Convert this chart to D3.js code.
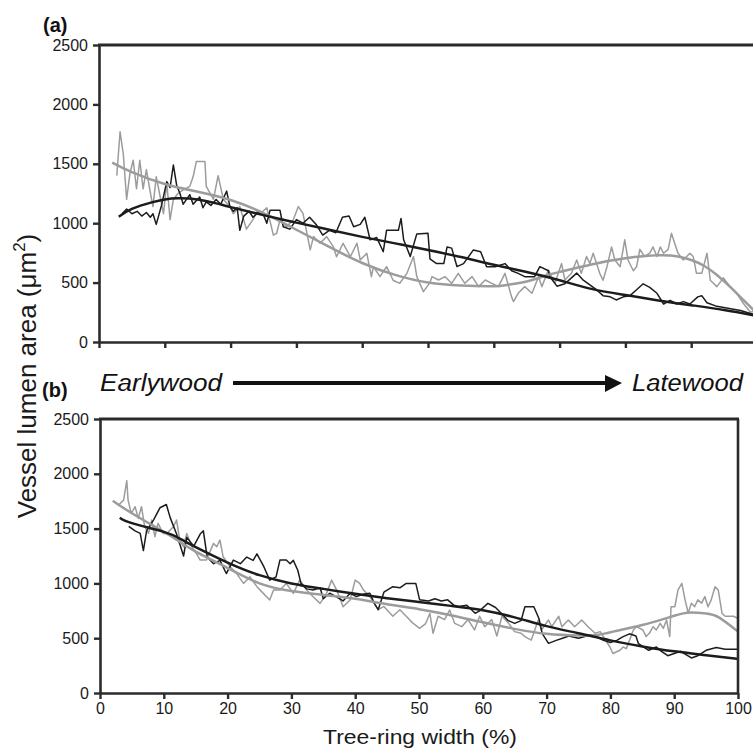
<!DOCTYPE html>
<html><head><meta charset="utf-8">
<script src="https://cdn.jsdelivr.net/npm/d3@7"></script>
<style>
html,body{margin:0;padding:0;background:#fff;}
svg{display:block;font-family:"Liberation Sans",Arial,Helvetica,sans-serif;}
</style></head><body>
<svg id="chart" width="753" height="752"></svg>
<script>
// ---------------- DATA ----------------
const xTicks = [0,10,20,30,40,50,60,70,80,90,100];
const yTicks = [0,500,1000,1500,2000,2500];
const panelLabels = ["(a)","(b)"];
const yTitle = "Vessel lumen area (\u03bcm";
const xTitle = "Tree-ring width (%)";
const arrowLabels = ["Earlywood","Latewood"];

// Panel (a) – raw series [x %, µm²]
const aBlackRaw = [[3.5,1080],[4.2,1120],[5.0,1080],[5.8,1100],[6.5,1060],[7.2,1090],[7.8,1050],[8.2,1080],[8.7,990],[9.5,1150],[10.3,1350],[10.8,1300],[11.3,1490],[11.8,1320],[12.3,1250],[12.8,1160],[13.3,1200],[13.8,1240],[14.3,1160],[15.3,1220],[15.8,1130],[16.3,1180],[17.0,1150],[17.8,1200],[18.5,1160],[19.4,1270],[19.9,1140],[20.4,1100],[21.0,1130],[21.4,940],[22.0,1060],[22.8,1100],[23.4,1050],[24.0,1080],[24.5,1100],[25.0,1070],[25.5,1000],[26.0,1110],[27.5,1110],[28.0,970],[29.0,950],[30.0,1030],[31.0,1000],[32.0,1050],[33.0,990],[34.0,900],[35.0,940],[36.0,920],[37.0,1050],[38.0,1060],[38.7,970],[39.7,990],[40.4,1050],[41.2,860],[42.2,880],[43.2,760],[43.7,940],[45.5,940],[45.9,1040],[46.3,860],[47.3,720],[48.3,910],[50.0,915],[50.3,700],[51.3,660],[52.4,660],[52.9,800],[53.6,790],[54.4,635],[55.4,660],[56.9,775],[58.0,760],[58.9,634],[60.2,634],[61.7,660],[62.7,600],[63.7,578],[64.7,550],[66.2,550],[67.0,634],[68.3,600],[68.5,550],[69.6,470],[70.8,490],[71.8,540],[72.6,580],[73.6,520],[74.6,480],[75.6,440],[76.6,390],[77.7,380],[78.6,354],[79.7,380],[80.7,390],[81.7,440],[82.7,490],[83.7,460],[84.8,410],[85.8,320],[86.8,350],[87.8,320],[88.8,340],[89.8,320],[91.0,380],[91.6,390],[92.4,330],[93.9,300],[96.0,280],[97.5,265],[99.0,240],[100,230]];
const aGreyRaw = [[2.7,1400],[3.2,1770],[3.7,1580],[4.2,1200],[4.7,1420],[5.2,1530],[5.7,1290],[6.2,1530],[6.7,1290],[7.2,1450],[7.7,1290],[8.2,1140],[8.7,1390],[9.2,1250],[9.8,1080],[10.3,1340],[10.8,1030],[11.3,1200],[12.0,1250],[12.8,1280],[13.8,1310],[14.3,1390],[14.8,1520],[16.1,1520],[16.3,1310],[17.4,1200],[18.1,1400],[18.9,1200],[19.9,1140],[20.4,1080],[21.4,1140],[22.4,950],[23.4,1030],[24.0,1100],[24.5,1080],[25.5,1130],[26.5,900],[27.0,915],[27.5,1027],[28.5,971],[29.5,1027],[30.3,1140],[31.0,1083],[32.1,775],[32.6,887],[33.6,831],[34.6,887],[35.6,803],[36.1,718],[37.1,831],[38.2,718],[39.2,831],[39.7,690],[40.7,746],[41.4,550],[41.7,634],[42.7,550],[43.7,634],[44.7,520],[45.7,494],[46.8,578],[47.8,719],[48.3,550],[49.3,424],[50.3,500],[50.6,550],[51.6,522],[52.6,550],[53.6,494],[54.6,578],[55.6,494],[56.7,550],[57.7,466],[58.7,522],[59.7,494],[60.7,466],[61.7,578],[62.7,380],[63.0,340],[63.7,410],[64.7,466],[65.8,410],[66.8,550],[67.3,466],[68.3,606],[69.3,494],[70.3,660],[70.8,522],[71.8,578],[72.6,690],[73.3,578],[74.1,720],[74.6,660],[75.1,747],[76.1,578],[76.6,520],[77.2,634],[77.9,800],[78.4,690],[79.2,634],[79.9,860],[80.4,690],[81.2,600],[81.7,634],[82.2,780],[82.9,720],[83.7,747],[84.2,800],[84.8,720],[85.3,800],[85.8,747],[86.5,780],[87.0,915],[87.5,830],[88.0,747],[88.8,690],[89.8,747],[90.3,720],[90.8,578],[91.6,578],[92.4,747],[92.9,520],[93.9,466],[94.9,540],[95.9,466],[96.9,410],[98.0,320],[99.0,250],[100,270]];
// Panel (a) – fitted curves
const aBlackFit = [[3,1055],[5,1120],[8,1175],[10,1200],[12,1210],[15,1200],[18,1165],[20,1135],[25,1068],[30,1005],[35,945],[40,885],[45,830],[50,775],[55,715],[60,650],[65,590],[70,520],[75,445],[80,395],[85,350],[90,310],[95,270],[100,220]];
const aGreyFit = [[2,1510],[5,1430],[10,1330],[15,1265],[20,1195],[25,1085],[30,945],[35,800],[40,665],[45,565],[50,500],[55,475],[60,470],[62,480],[65,510],[68,560],[70,590],[75,655],[80,705],[85,730],[88,720],[90,690],[92,640],[94,560],[96,460],[98,350],[100,240]];

// Panel (b) – raw series
const bBlackRaw = [[4.5,1520],[5.5,1480],[6.3,1456],[6.8,1300],[7.3,1480],[8.4,1580],[9.4,1690],[10.4,1720],[11.0,1600],[12.0,1450],[13.1,1250],[13.6,1420],[14.7,1340],[15.7,1450],[16.2,1480],[16.8,1240],[17.8,1180],[18.8,1210],[19.8,1090],[20.9,1213],[22.0,1180],[23.0,1240],[24.0,1210],[24.6,1270],[25.7,1150],[26.6,1030],[27.6,1060],[28.2,1213],[29.2,1213],[29.8,1180],[30.3,1210],[31.0,1120],[31.5,1000],[32.4,950],[33.4,940],[34.5,960],[35.0,860],[36.0,910],[37.0,880],[38.1,840],[39.2,910],[40.2,880],[41.2,900],[42.3,910],[43.0,818],[43.6,760],[44.5,920],[45.9,970],[47.0,960],[48.0,1000],[49.5,1000],[50.1,850],[51.5,840],[52.5,860],[53.5,840],[54.5,850],[55.5,800],[56.2,790],[57.5,800],[58.8,727],[59.5,750],[60.8,818],[62.0,780],[63.0,720],[64.0,660],[65.0,635],[66.0,660],[66.6,787],[68.0,787],[68.8,680],[69.3,544],[70.3,453],[71.5,480],[72.5,500],[73.5,520],[75.0,500],[76.8,530],[77.8,515],[78.9,480],[80.0,460],[81.0,480],[82.0,514],[83.0,540],[84.0,520],[84.4,450],[86.0,390],[87.2,420],[88.0,380],[89.0,340],[90.0,360],[91.0,380],[92.7,320],[93.7,340],[95.0,390],[96.6,415],[98.0,400],[100,400]];
const bGreyRaw = [[3.0,1720],[3.7,1760],[4.2,1937],[4.4,1760],[4.9,1639],[5.5,1700],[6.0,1593],[6.5,1700],[7.0,1517],[7.6,1456],[8.1,1578],[8.6,1426],[9.1,1548],[9.9,1456],[10.5,1456],[11.0,1487],[11.5,1517],[12.0,1578],[12.5,1395],[13.1,1334],[13.6,1456],[14.4,1334],[15.1,1273],[15.7,1213],[16.7,1213],[17.8,1365],[18.3,1334],[18.8,1395],[19.3,1243],[20.4,1152],[21.4,1091],[22.5,1000],[23.5,1061],[24.6,970],[25.6,909],[26.6,848],[27.2,939],[28.2,939],[29.2,1000],[30.3,909],[31.3,1030],[32.4,939],[33.4,878],[34.5,818],[35.5,909],[36.3,1030],[37.1,939],[38.1,787],[39.2,848],[40.0,1030],[40.7,1000],[41.3,939],[42.3,878],[43.0,818],[43.6,760],[44.5,790],[45.9,700],[47.0,760],[48.0,700],[49.0,640],[50.1,590],[51.0,630],[51.7,726],[52.2,545],[53.0,700],[54.0,670],[54.8,757],[55.6,635],[56.7,605],[57.7,670],[58.7,575],[59.5,700],[60.3,605],[61.4,670],[62.2,520],[63.0,700],[64.0,640],[65.0,560],[66.0,545],[66.6,514],[67.6,483],[68.7,666],[69.2,575],[70.3,666],[70.8,605],[71.9,700],[72.4,605],[73.4,666],[74.4,605],[75.5,666],[76.5,605],[77.6,545],[78.4,560],[79.9,422],[80.4,360],[81.5,390],[82.0,420],[82.5,405],[83.6,575],[84.1,605],[85.1,575],[85.6,515],[86.1,545],[86.7,605],[87.2,575],[87.8,635],[88.3,590],[88.8,666],[89.3,515],[89.5,787],[90.1,787],[90.6,940],[91.2,1000],[91.7,850],[92.2,730],[92.7,820],[93.2,787],[93.7,850],[94.3,820],[94.8,880],[95.3,787],[95.8,850],[96.4,970],[96.9,940],[97.5,726],[98.0,700],[99.3,700],[100,680]];
// Panel (b) – fitted curves
const bBlackFit = [[3.1,1600],[5,1550],[10,1470],[12.5,1410],[15,1330],[20,1190],[25,1075],[30,1000],[35,950],[40,905],[45,865],[50,830],[55,795],[60,755],[65,690],[70,610],[75,545],[80,480],[85,425],[90,380],[95,345],[100,310]];
const bGreyFit = [[2,1755],[5,1640],[10,1470],[12.5,1380],[15,1290],[20,1140],[25,1000],[30,930],[35,895],[40,860],[45,810],[50,765],[55,710],[60,645],[65,585],[70,540],[75,525],[78,530],[80,555],[85,620],[90,705],[92.5,735],[95,725],[97,690],[100,560]];

// ---------------- DRAW ----------------
const svg = d3.select("#chart");
const AX = "#2b2b2b", BLACK = "#1c1c1c", GREY = "#9c9c9c";

const panels = [
  {x: d3.scaleLinear([0,100],[99,757]), y: d3.scaleLinear([0,2500],[342,45]),
   raw: [aGreyRaw, aBlackRaw], fit: [aGreyFit, aBlackFit], labels:false, box:[true,false], tag: panelLabels[0], tagPos:[43,32]},
  {x: d3.scaleLinear([0,100],[100,738]), y: d3.scaleLinear([0,2500],[693,419]),
   raw: [bGreyRaw, bBlackRaw], fit: [bGreyFit, bBlackFit], labels:true, box:[true,true], tag: panelLabels[1], tagPos:[42,397]}
];

panels.forEach(p => {
  const g = svg.append("g");
  const [x0,x1] = p.x.range(), [y0,y1] = p.y.range();

  const line = d3.line().x(d=>p.x(d[0])).y(d=>p.y(d[1]));
  const smooth = d3.line().x(d=>p.x(d[0])).y(d=>p.y(d[1])).curve(d3.curveNatural);
  g.append("path").datum(p.raw[0]).attr("d", line).attr("fill","none").attr("stroke",GREY).attr("stroke-width",1.5).attr("stroke-linejoin","round");
  g.append("path").datum(p.raw[1]).attr("d", line).attr("fill","none").attr("stroke",BLACK).attr("stroke-width",1.5).attr("stroke-linejoin","round");
  g.append("path").datum(p.fit[0]).attr("d", smooth).attr("fill","none").attr("stroke",GREY).attr("stroke-width",2.5);
  g.append("path").datum(p.fit[1]).attr("d", smooth).attr("fill","none").attr("stroke",BLACK).attr("stroke-width",2.5);

  const ya = d3.axisLeft(p.y).tickValues(yTicks).tickSize(6).tickSizeOuter(0).tickPadding(5).tickFormat(d3.format("d"));
  const gy = g.append("g").attr("transform",`translate(${x0},0)`).call(ya);
  gy.selectAll("text").attr("font-size",16).attr("fill","#1a1a1a").attr("font-family",'"Liberation Sans",Arial,sans-serif');
  const xa = d3.axisBottom(p.x).tickValues(xTicks).tickSize(6).tickSizeOuter(0).tickPadding(4)
     .tickFormat(p.labels ? d3.format("d") : () => "");
  const gx = g.append("g").attr("transform",`translate(0,${y0})`).call(xa);
  gx.selectAll("text").attr("font-size",16).attr("fill","#1a1a1a").attr("font-family",'"Liberation Sans",Arial,sans-serif');
  [gx,gy].forEach(a=>{
    a.select(".domain").attr("stroke",AX).attr("stroke-width",2.6);
    a.selectAll(".tick line").attr("stroke",AX).attr("stroke-width",2.4);
  });
  if (p.box[0]) g.append("line").attr("x1",x0-1).attr("x2",x1+1).attr("y1",y1).attr("y2",y1).attr("stroke",AX).attr("stroke-width",2.8);
  if (p.box[1]) g.append("line").attr("x1",x1).attr("x2",x1).attr("y1",y1).attr("y2",y0).attr("stroke",AX).attr("stroke-width",2.6);

  svg.append("text").attr("x",p.tagPos[0]).attr("y",p.tagPos[1]).attr("font-size",20).attr("font-weight","bold").attr("fill","#111").text(p.tag);
});

// Earlywood -> Latewood arrow
svg.append("text").attr("x",100).attr("y",391).attr("font-size",23).attr("font-style","italic").attr("fill","#111")
  .attr("textLength",122).attr("lengthAdjust","spacingAndGlyphs").text(arrowLabels[0]);
svg.append("text").attr("x",632).attr("y",391).attr("font-size",23).attr("font-style","italic").attr("fill","#111")
  .attr("textLength",111).attr("lengthAdjust","spacingAndGlyphs").text(arrowLabels[1]);
svg.append("line").attr("x1",233).attr("x2",607).attr("y1",383).attr("y2",383).attr("stroke","#111").attr("stroke-width",4);
svg.append("path").attr("d","M605,375 L622,383 L605,392 Z").attr("fill","#111");

// axis titles
const yt = svg.append("text").attr("transform","translate(36,376) rotate(-90)").attr("text-anchor","middle")
  .attr("font-size",26).attr("fill","#1a1a1a");
yt.append("tspan").text(yTitle);
yt.append("tspan").attr("font-size",17).attr("dy",-11).text("2");
yt.append("tspan").attr("dy",11).text(")");
svg.append("text").attr("x",420).attr("y",744).attr("text-anchor","middle").attr("font-size",21).attr("fill","#1a1a1a")
  .attr("textLength",194).attr("lengthAdjust","spacingAndGlyphs").text(xTitle);
</script>
</body></html>
